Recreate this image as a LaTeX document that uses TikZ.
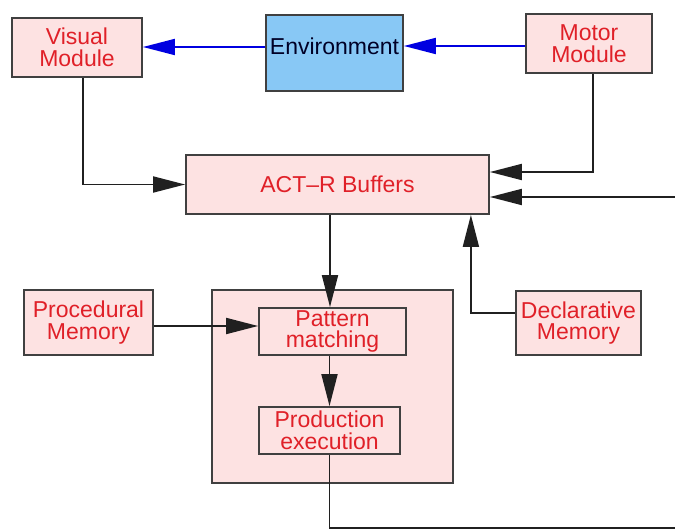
\documentclass[tikz,border=0pt]{standalone}
\usepackage{fontspec}
\setmainfont{Liberation Sans}
\usetikzlibrary{arrows.meta}

\definecolor{boxpink}{RGB}{253,226,226}
\definecolor{boxline}{RGB}{64,64,64}
\definecolor{actred}{RGB}{224,32,40}
\definecolor{envblue}{RGB}{136,200,245}
\definecolor{flowblue}{RGB}{0,0,224}
\definecolor{linkgray}{RGB}{32,32,32}

\begin{document}
\begin{tikzpicture}[x=1pt,y=-1pt,>={Triangle[length=32pt,width=16pt]},
  box/.style={draw=boxline,fill=boxpink,text=actred,line width=1.8pt,
  font=\fontsize{23}{21.5}\selectfont,align=center,inner sep=0pt},
  link/.style={->,draw=linkgray,line width=1.8pt},
  flow/.style={->,draw=flowblue,line width=1.8pt}]

  \useasboundingbox (0,0) rectangle (675,530);

  \node[box,minimum width=130pt,minimum height=59pt] (visual) at (77,47.5) {Visual\\Module};
  \node[box,fill=envblue,text=black!85!blue,minimum width=137pt,minimum height=76pt] (env) at (334.5,53) {\raisebox{13pt}{Environment}};
  \node[box,minimum width=126pt,minimum height=59pt] (motor) at (589,43.5) {Motor\\Module};
  \node[box,minimum width=303pt,minimum height=59pt] (buffers) at (337.5,184.5) {ACT--R Buffers};
  \node[box,minimum width=241pt,minimum height=193pt] (prodsys) at (332.5,386.5) {};
  \node[box,minimum width=129pt,minimum height=65pt] (procedural) at (88.5,322.5) {Procedural\\Memory};
  \node[box,minimum width=147pt,minimum height=47pt] (pattern) at (332.5,331.5) {Pattern\\matching};
  \node[box,minimum width=141pt,minimum height=47pt] (production) at (329.5,430.5) {Production\\execution};
  \node[box,minimum width=125pt,minimum height=64pt] (declarative) at (578.5,323) {Declarative\\Memory};

  % the loop back to the buffers leaves the page on the right
  \coordinate (loopcorner) at (700,528);

  \draw[flow] ([yshift=0.5pt]visual.east -| env.west) -- ([yshift=0.5pt]visual.east);
  \draw[flow] ([yshift=-2.5pt]motor.west) -- ([yshift=-2.5pt]motor.west -| env.east);
  \draw[link] ([xshift=6pt]visual.south) |- (buffers.west);
  \draw[link] ([xshift=4pt]motor.south) |- ([yshift=12.5pt]buffers.east);
  \draw[link] (production.south) |- (loopcorner) |- ([yshift=-12.5pt]buffers.east);
  \draw[link] ([xshift=-2.5pt]buffers.south -| pattern.north) -- ([xshift=-2.5pt]pattern.north);
  \draw[link] ([yshift=-3.5pt]procedural.east) -- ([yshift=-3.5pt]procedural.east -| pattern.west);
  \draw[link] (pattern.south -| production.north) -- (production.north);
  \draw[link] ([yshift=10pt]declarative.west) -| ([xshift=-19pt]buffers.south east);
\end{tikzpicture}
\end{document}
